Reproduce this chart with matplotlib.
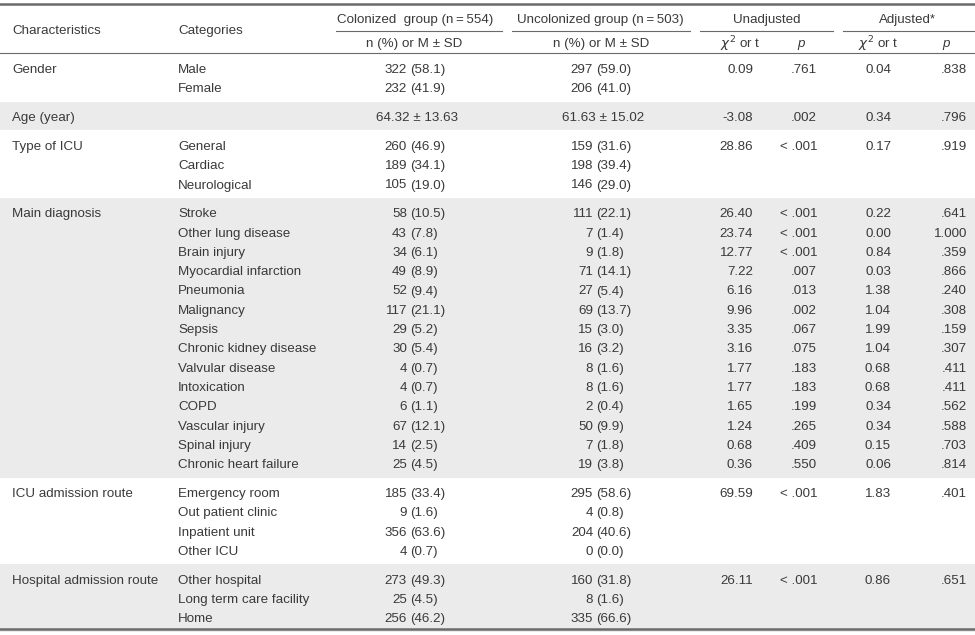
#!/usr/bin/env python3
import matplotlib
matplotlib.use('Agg')
import matplotlib.pyplot as plt

##########################################################################################
# TABLE DATA
##########################################################################################

characteristics = ['Gender', 'Age (year)', 'Type of ICU', 'Main diagnosis',
                   'ICU admission route', 'Hospital admission route']

categories = [
    ['Male', 'Female'],
    [''],
    ['General', 'Cardiac', 'Neurological'],
    ['Stroke', 'Other lung disease', 'Brain injury', 'Myocardial infarction', 'Pneumonia',
     'Malignancy', 'Sepsis', 'Chronic kidney disease', 'Valvular disease', 'Intoxication',
     'COPD', 'Vascular injury', 'Spinal injury', 'Chronic heart failure'],
    ['Emergency room', 'Out patient clinic', 'Inpatient unit', 'Other ICU'],
    ['Other hospital', 'Long term care facility', 'Home'],
]

colonized = [
    ['322 (58.1)', '232 (41.9)'],
    ['64.32 \u00b1 13.63'],
    ['260 (46.9)', '189 (34.1)', '105 (19.0)'],
    ['58 (10.5)', '43 (7.8)', '34 (6.1)', '49 (8.9)', '52 (9.4)', '117 (21.1)', '29 (5.2)',
     '30 (5.4)', '4 (0.7)', '4 (0.7)', '6 (1.1)', '67 (12.1)', '14 (2.5)', '25 (4.5)'],
    ['185 (33.4)', '9 (1.6)', '356 (63.6)', '4 (0.7)'],
    ['273 (49.3)', '25 (4.5)', '256 (46.2)'],
]

uncolonized = [
    ['297 (59.0)', '206 (41.0)'],
    ['61.63 \u00b1 15.02'],
    ['159 (31.6)', '198 (39.4)', '146 (29.0)'],
    ['111 (22.1)', '7 (1.4)', '9 (1.8)', '71 (14.1)', '27 (5.4)', '69 (13.7)', '15 (3.0)',
     '16 (3.2)', '8 (1.6)', '8 (1.6)', '2 (0.4)', '50 (9.9)', '7 (1.8)', '19 (3.8)'],
    ['295 (58.6)', '4 (0.8)', '204 (40.6)', '0 (0.0)'],
    ['160 (31.8)', '8 (1.6)', '335 (66.6)'],
]

unadj_stat = [
    ['0.09'], ['-3.08'], ['28.86'],
    ['26.40', '23.74', '12.77', '7.22', '6.16', '9.96', '3.35', '3.16', '1.77', '1.77',
     '1.65', '1.24', '0.68', '0.36'],
    ['69.59'], ['26.11'],
]
unadj_p = [
    ['.761'], ['.002'], ['< .001'],
    ['< .001', '< .001', '< .001', '.007', '.013', '.002', '.067', '.075', '.183', '.183',
     '.199', '.265', '.409', '.550'],
    ['< .001'], ['< .001'],
]
adj_stat = [
    ['0.04'], ['0.34'], ['0.17'],
    ['0.22', '0.00', '0.84', '0.03', '1.38', '1.04', '1.99', '1.04', '0.68', '0.68',
     '0.34', '0.34', '0.15', '0.06'],
    ['1.83'], ['0.86'],
]
adj_p = [
    ['.838'], ['.796'], ['.919'],
    ['.641', '1.000', '.359', '.866', '.240', '.308', '.159', '.307', '.411', '.411',
     '.562', '.588', '.703', '.814'],
    ['.401'], ['.651'],
]

##########################################################################################
# LAYOUT (pixel coordinates)
##########################################################################################
W, H = 975, 635
TXT = '#3a3a3a'
RULE = '#6a6a6a'
BAND = '#ebebeb'
FS = 9.6

plt.rcParams['font.family'] = ['Liberation Sans', 'DejaVu Sans']

fig = plt.figure(figsize=(W / 100, H / 100), dpi=100)
ax = fig.add_axes([0, 0, 1, 1])
ax.set_xlim(0, W)
ax.set_ylim(H, 0)
ax.axis('off')

def txt(x, y, s, ha='left', **kw):
    # +1 px: matplotlib centres on the full glyph box, the reference sits a bit lower
    ax.text(x, y + 1, s, ha=ha, va='center', fontsize=FS, color=TXT, **kw)

# header
ax.axhline(4, color=RULE, lw=1.8)
txt(12, 30, 'Characteristics')
txt(178, 30, 'Categories')
txt(415, 19, 'Colonized  group (n\u2009=\u2009554)', ha='center')
txt(600, 19, 'Uncolonized group (n\u2009=\u2009503)', ha='center')
txt(767, 19, 'Unadjusted', ha='center')
txt(908, 19, 'Adjusted*', ha='center')
for x0, x1 in [(336, 502), (512, 690), (700, 833), (843, 975)]:
    ax.plot([x0, x1], [31, 31], color=RULE, lw=0.8)
txt(414, 43, 'n (%) or M \u00b1 SD', ha='center')
txt(601, 43, 'n (%) or M \u00b1 SD', ha='center')
txt(740, 43, r'$\chi^2$ or t', ha='center')
txt(801, 43, 'p', ha='center', style='italic')
txt(878, 43, r'$\chi^2$ or t', ha='center')
txt(946, 43, 'p', ha='center', style='italic')
ax.axhline(53, color=RULE, lw=0.8)

STEP = 19.3
GAP = 28.8
y = 69.0
for k, name in enumerate(characteristics):
    n = len(categories[k])
    ys = [y + i * STEP for i in range(n)]
    if k % 2 == 1:
        ax.axhspan(ys[0] - 15.5, ys[-1] + 13.3, color=BAND, lw=0, zorder=0)
    txt(12, ys[0], name)
    for i in range(n):
        txt(178, ys[i], categories[k][i])
        for vals, xr in [(colonized, 407), (uncolonized, 593)]:
            s = vals[k][i]
            if '\u00b1' in s:
                txt(xr + 10, ys[i], s, ha='center')
            else:
                cnt, pct = s.split(' ')
                txt(xr, ys[i], cnt, ha='right')
                txt(xr + 3.5, ys[i], pct)
    for vals, xr in [(unadj_stat, 753), (unadj_p, 817), (adj_stat, 891), (adj_p, 967)]:
        for i, s in enumerate(vals[k]):
            txt(xr, ys[i], s, ha='right')
    y = ys[-1] + GAP

ax.axhline(629, color=RULE, lw=1.8)

fig.savefig('out.png', dpi=100)
